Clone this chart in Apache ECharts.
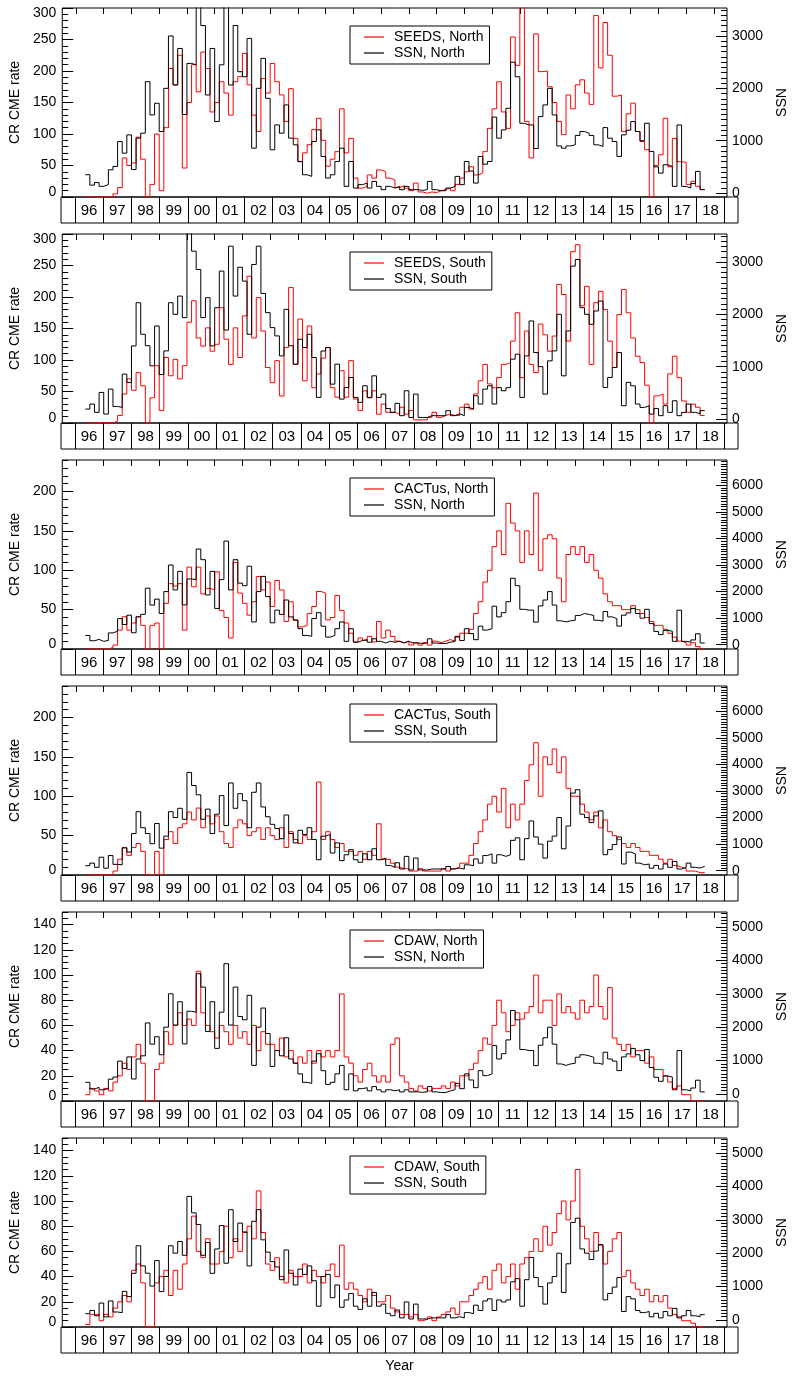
<!DOCTYPE html>
<html><head><meta charset="utf-8">
<script src="https://cdn.jsdelivr.net/npm/echarts@6/dist/echarts.min.js"></script>
<style>html,body{margin:0;padding:0;background:#fff}#c{width:797px;height:1378px}</style>
</head><body><div id="c"></div>
<script>
const START_YEAR = 1996 + 1/3;
const STEP = 1/6;

const SEEDS_N = [0,0,0,0,
 0,0,5,15,62,50, 54,95,60,0,20,100, 10,110,204,178,225,46, 150,210,167,230,204,135,
 150,183,165,130,183,191, 228,178,130,104,188,165, 212,183,162,120,172,93, 56,70,83,107,125,90,
 49,60,72,140,70,93, 30,14,17,35,30,43, 40,30,27,15,18,14, 10,22,8,6,8,7,
 10,12,14,10,20,30, 40,48,35,38,72,109, 140,183,135,109,254,209, 310,120,62,259,199,200,
 175,150,120,99,162,140, 178,186,165,147,288,205, 277,225,160,162,104,132, 149,104,88,75,0,50,
 67,125,48,93,56,55,
 20,25,17,12];
const SEEDS_S = [0,0,0,0,
 0,0,3,12,46,70, 52,80,59,0,40,91, 20,104,75,101,70,91, 160,194,135,122,151,114,
 125,183,133,93,151,104, 170,233,135,199,146,88, 64,99,43,120,215,93, 165,67,154,56,78,103,
 120,56,41,83,41,99, 38,20,51,40,51,14, 30,17,17,14,25,14, 20,5,5,5,9,17,
 9,12,14,12,12,25, 30,22,46,67,93,62, 56,72,93,96,130,175, 72,146,93,80,157,140,
 114,138,220,204,130,272, 283,186,217,93,191,209, 180,130,88,172,212,175, 135,106,96,60,0,43,
 46,30,78,106,72,35,
 17,30,25,12];
const CACTUS_N = [0,0,0,0,
 0,2,5,24,41,24, 33,41,30,0,30,33, 0,58,83,80,83,24, 104,79,104,70,77,75,
 98,49,40,14,110,71, 58,43,60,92,75,85, 54,87,75,35,60,37, 28,30,45,54,73,71,
 37,40,68,49,33,20, 9,14,11,16,9,35, 14,24,16,10,8,10, 5,8,5,8,5,10,
 8,10,12,10,15,20, 20,25,45,60,85,100, 130,150,120,185,160,150, 110,150,120,198,100,140,
 145,140,90,60,120,130, 120,130,110,120,100,90, 70,60,55,55,50,50, 55,50,45,40,35,30,
 30,25,20,15,10,8,
 5,8,3,0];
const CACTUS_S = [0,0,0,0,
 0,0,5,20,35,25, 35,40,30,0,0,30, 0,45,55,40,60,65, 80,70,85,60,75,65,
 75,55,40,35,60,70, 65,50,55,60,45,60, 50,45,60,35,55,45, 40,50,45,55,118,45,
 55,45,35,40,30,30, 25,30,20,30,25,65, 20,20,15,10,8,8, 5,5,8,5,5,5,
 5,8,5,8,10,15, 15,25,40,55,70,90, 100,80,110,60,90,70, 90,120,140,168,100,150,
 140,160,130,150,110,100, 100,90,80,70,80,60, 70,55,50,45,40,35, 40,35,30,30,25,25,
 20,15,20,12,10,8,
 5,5,3,3];
const CDAW_N = [5,10,8,5,
 10,8,15,20,30,25, 35,45,30,0,0,25, 30,55,45,60,70,60, 65,60,103,70,60,55,
 50,60,55,45,60,50, 55,45,60,40,55,45, 45,40,50,35,40,30, 35,30,40,30,40,35,
 40,35,40,85,35,30, 20,15,25,30,20,15, 20,15,45,50,20,15, 10,8,12,10,8,10,
 10,12,10,15,12,20, 20,25,30,40,50,45, 60,80,70,55,60,70, 65,70,75,100,70,80,
 80,60,85,70,75,70, 65,80,70,75,100,75, 65,90,50,45,40,45, 35,40,40,30,35,25,
 25,20,15,10,12,5,
 5,0,0,0];
const CDAW_S = [2,10,10,5,
 10,8,15,20,25,20, 45,50,35,0,0,35, 40,45,25,45,30,50, 70,88,60,55,70,50,
 50,60,80,55,70,60, 75,80,70,108,75,50, 45,55,40,35,45,40, 40,50,35,45,40,35,
 45,50,40,65,30,35, 30,25,20,30,25,20, 20,25,15,12,10,10, 8,10,5,6,8,5,
 8,10,12,15,10,20, 20,25,30,35,40,30, 45,50,35,40,50,30, 50,55,60,70,60,80,
 65,75,90,100,85,100, 125,80,70,60,75,65, 50,60,70,75,40,45, 35,30,25,30,20,25,
 20,25,15,10,8,5,
 5,3,0,0];
const SSN_N = [350,150,200,127,
 160,444,508,984,762,1111, 450,1048,1143,2127,1492,1715, 1175,2000,3000,2064,2762,1500,
 2476,2450,3600,3200,1873,2762, 1365,2450,3900,2064,3200,2318, 2222,2953,857,2000,2572,1810,
 825,1302,1143,1683,1048,921, 603,349,318,984,1206,698, 286,349,603,857,127,603,
 95,160,190,95,222,127, 64,127,95,127,64,127, 64,64,50,64,222,64, 44,44,95,127,318,160,
 603,420,190,698,550,603, 1450,1048,1206,1619,2500,2222, 1333,1300,1302,850,1460,1683,
 2000,1492,900,857,900,921, 1100,1175,1143,1100,921,889, 1250,1048,984,700,1111,1200,
 1365,1175,1000,1333,794,500, 380,540,508,127,1300,127,
 95,180,413,64];
const SSN_S = [190,286,127,508,
 95,571,240,222,857,700, 1397,2222,1619,1400,1016,1778, 850,1302,2222,2000,2349,1937,
 3700,3207,2857,1937,2318,1397, 2127,2826,1700,3302,2349,2900, 2635,1619,2953,3302,2400,2032,
 1746,1588,1206,2096,1400,1048, 1524,1365,1619,1175,413,1300, 1365,667,1048,381,600,794,
 413,318,635,413,825,413, 476,200,127,300,64,540, 30,476,30,30,64,64, 64,64,160,64,100,64,
 222,190,444,286,571,635, 286,600,540,600,1143,1238, 413,1206,1873,1270,1000,476,
 1111,1302,2000,825,1683,2921, 3048,2127,2000,1810,2064,2254, 603,794,984,1270,254,700,
 635,286,222,254,95,200, 64,254,127,349,64,127,
 286,127,100,160];

const YEAR_TICKS = [];
for (let y = 1996; y <= 2019; y++) YEAR_TICKS.push(y);
const YEAR_MIDS = YEAR_TICKS.slice(0, -1).map(y => y + 0.5);
const L300 = [0,50,100,150,200,250,300];
const L240 = [0,50,100,150,200];
const L150 = [0,20,40,60,80,100,120,140];
const R3 = [0,1000,2000,3000];
const R6 = [0,1000,2000,3000,4000,5000,6000];
const R5 = [0,1000,2000,3000,4000,5000];

const XMIN = 1995.505, XMAX = 2019.47;
const FONT = 'Liberation Sans';

function range(a, b, s) { const r = []; for (let v = a; v <= b + 1e-9; v += s) r.push(v); return r; }

const panels = [
  {red:'SEEDS, North', black:'SSN, North', r:SEEDS_N, k:SSN_N, lmax:300, lmaj:L300, lmin:range(0,300,10), rmin:-76, rmax:3535, rmaj:R3},
  {red:'SEEDS, South', black:'SSN, South', r:SEEDS_S, k:SSN_S, lmax:300, lmaj:L300, lmin:range(0,300,10), rmin:-76, rmax:3535, rmaj:R3},
  {red:'CACTus, North', black:'SSN, North', r:CACTUS_N, k:SSN_N, lmax:240, lmaj:L240, lmin:range(0,240,10), rmin:-161, rmax:6952, rmaj:R6},
  {red:'CACTus, South', black:'SSN, South', r:CACTUS_S, k:SSN_S, lmax:240, lmaj:L240, lmin:range(0,240,10), rmin:-161, rmax:6952, rmaj:R6},
  {red:'CDAW, North', black:'SSN, North', r:CDAW_N, k:SSN_N, lmax:150, lmaj:L150, lmin:range(0,150,5), rmin:-209, rmax:5447, rmaj:R5},
  {red:'CDAW, South', black:'SSN, South', r:CDAW_S, k:SSN_S, lmax:150, lmaj:L150, lmin:range(0,150,5), rmin:-209, rmax:5447, rmaj:R5}
];

function stepData(arr) {
  const d = arr.map((v, j) => [START_YEAR + j * STEP, v]);
  d.push([START_YEAR + arr.length * STEP, arr[arr.length - 1]]);
  return d;
}

const grids = [], xAxes = [], yAxes = [], series = [], legends = [];
const txt = {fontSize: 14, color: '#000', fontFamily: FONT};
const noLine = {show: false, onZero: false};

panels.forEach((p, i) => {
  const top = 8 + 226 * i;
  const gP = grids.length;
  grids.push({left: 61, width: 677, top: top, height: 189, show: true, borderColor: '#000', borderWidth: 1, backgroundColor: 'rgba(0,0,0,0)'});
  const gB = grids.length;
  grids.push({left: 61, width: 677, top: top + 189, height: 26, show: true, borderColor: '#000', borderWidth: 1, backgroundColor: 'rgba(0,0,0,0)'});

  const xP = xAxes.length;
  xAxes.push({type: 'value', gridIndex: gP, position: 'top', min: XMIN, max: XMAX,
    axisLine: noLine, splitLine: {show: false}, axisLabel: {show: false},
    axisTick: {show: true, inside: true, length: 6, customValues: YEAR_TICKS, lineStyle: {color: '#000', width: 1}}});
  xAxes.push({type: 'value', gridIndex: gB, position: 'bottom', min: XMIN, max: XMAX,
    axisLine: noLine, splitLine: {show: false},
    axisTick: {show: true, inside: true, length: 26, customValues: YEAR_TICKS, lineStyle: {color: '#000', width: 1}},
    axisLabel: {show: true, inside: true, margin: 5, customValues: YEAR_MIDS,
      formatter: v => String(Math.floor(v) % 100).padStart(2, '0'), fontSize: 15, color: '#000', fontFamily: FONT},
    name: i === 5 ? 'Year' : '', nameLocation: 'middle', nameGap: 6,
    nameTextStyle: {fontSize: 14, color: '#000', fontFamily: FONT, verticalAlign: 'top'}});

  const lTop = p.lmaj[p.lmaj.length - 1] === p.lmax ? p.lmax : null;
  const yL = yAxes.length;
  yAxes.push({type: 'value', gridIndex: gP, position: 'left', min: 0, max: p.lmax,
    axisLine: noLine, splitLine: {show: false},
    axisTick: {show: true, inside: true, length: 11, customValues: p.lmaj, lineStyle: {color: '#000'}},
    axisLabel: {show: true, customValues: p.lmaj, margin: 6,
      formatter: v => v === 0 ? '{lo|0}' : (v === lTop ? '{hi|' + v + '}' : String(v)),
      rich: {lo: {...txt, padding: [0, 0, 9, 0]}, hi: {...txt, padding: [11, 0, 0, 0]}}, ...txt},
    name: 'CR CME rate', nameLocation: 'middle', nameGap: 40, nameRotate: 90, nameTextStyle: txt});
  yAxes.push({type: 'value', gridIndex: gP, position: 'left', offset: 0, min: 0, max: p.lmax,
    axisLine: noLine, splitLine: {show: false}, axisLabel: {show: false},
    axisTick: {show: true, inside: true, length: 6, customValues: p.lmin, lineStyle: {color: '#000', width: 1}}});
  const yR = yAxes.length;
  yAxes.push({type: 'value', gridIndex: gP, position: 'right', min: p.rmin, max: p.rmax,
    axisLine: noLine, splitLine: {show: false},
    axisTick: {show: true, inside: true, length: 11, customValues: p.rmaj, lineStyle: {color: '#000'}},
    axisLabel: {show: true, customValues: p.rmaj, margin: 5, formatter: v => String(v), ...txt},
    name: 'SSN', nameLocation: 'middle', nameGap: 48, nameRotate: 90, nameTextStyle: txt});
  yAxes.push({type: 'value', gridIndex: gP, position: 'right', offset: 0, min: p.rmin, max: p.rmax,
    axisLine: noLine, splitLine: {show: false}, axisLabel: {show: false},
    axisTick: {show: true, inside: true, length: 6, customValues: range(0, p.rmax, 100), lineStyle: {color: '#000', width: 1}}});
  yAxes.push({type: 'value', gridIndex: gB, min: 0, max: 1, show: false});

  series.push({type: 'line', name: p.red, xAxisIndex: xP, yAxisIndex: yL, data: stepData(p.r),
    step: 'end', symbol: 'none', showSymbol: false, lineStyle: {color: '#ff0000', width: 1}, itemStyle: {color: '#ff0000'},
    silent: true, animation: false});
  series.push({type: 'line', name: p.black, xAxisIndex: xP, yAxisIndex: yR, data: stepData(p.k),
    step: 'end', symbol: 'none', showSymbol: false, lineStyle: {color: '#000', width: 1}, itemStyle: {color: '#000'},
    silent: true, animation: false});

  legends.push({data: [p.red, p.black], orient: 'vertical', left: 350, top: top + 18,
    icon: 'rect', itemGap: 2, itemWidth: 20, itemHeight: 1.2, borderColor: '#000', borderWidth: 1, borderRadius: 0,
    padding: [4, 6, 4, 14], selectedMode: false, textStyle: {...txt, padding: [0, 0, 0, 5]}});
});

const chart = echarts.init(document.getElementById('c'), null, {renderer: 'canvas'});
chart.setOption({
  animation: false,
  backgroundColor: '#fff',
  grid: grids, xAxis: xAxes, yAxis: yAxes, series: series, legend: legends
});
</script>
</body></html>
